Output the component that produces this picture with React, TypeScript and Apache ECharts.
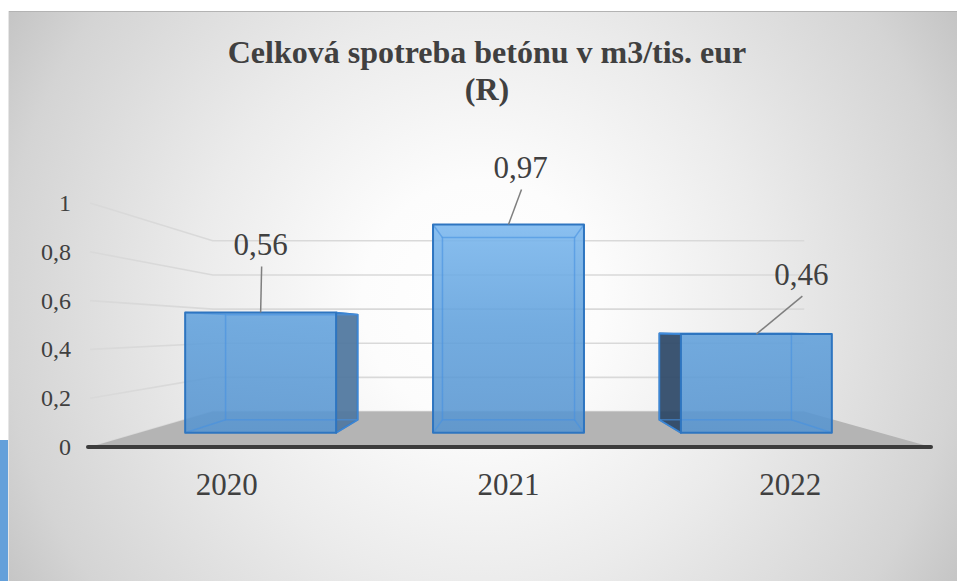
import React, { useEffect, useRef } from 'react';
import * as echarts from 'echarts';

// ---- data ----
const categories = ['2020', '2021', '2022'];
const values = [0.56, 0.97, 0.46];
const yTicks = [0, 0.2, 0.4, 0.6, 0.8, 1];
const titleLines = ['Celková spotreba betónu v m3/tis. eur', '(R)'];

// ---- style / layout constants ----
const FONT = "'Liberation Serif', 'Times New Roman', serif";
const TEXT = '#404040';
// label offsets (px) from the top-front-centre of each bar (manually placed labels)
const labelOffsets = [
  [0, -68],
  [12, -57],
  [45, -60],
];
const S_WALL = 0.7; // perspective scale of back wall
const S_FRONT = 0.88; // perspective scale of bar front faces
const S_BACK = 0.77; // perspective scale of bar back faces
const VP_FRAC = 0.516; // eye level as fraction of grid height
const BAR_FRAC = 0.609; // bar width as fraction of category width

const fmt = (v: number) => String(v).replace('.', ',');

function makePersp(cs: any) {
  const vx = cs.x + cs.width / 2;
  const vy = cs.y + cs.height * VP_FRAC;
  return {
    vx,
    vy,
    P: (x: number, y: number, s: number) => [vx + (x - vx) * s, vy + (y - vy) * s],
  };
}

export default function App() {
  const ref = useRef<HTMLDivElement>(null);

  useEffect(() => {
    if (!ref.current) return;
    const chart = echarts.init(ref.current, undefined, { renderer: 'svg' });

    const W = 949;
    const H = 570;

    const option: any = {
      animation: false,
      graphic: {
        elements: [
          {
            type: 'rect',
            z: -100,
            silent: true,
            shape: { x: 0, y: 0, width: W, height: H },
            style: {
              fill: new echarts.graphic.RadialGradient(
                474,
                289,
                600,
                [
                  { offset: 0, color: '#ffffff' },
                  { offset: 0.2, color: '#fcfcfc' },
                  { offset: 0.48, color: '#ebebeb' },
                  { offset: 0.8, color: '#d4d4d4' },
                  { offset: 0.93, color: '#c4c4c4' },
                  { offset: 1, color: '#bdbdbd' },
                ],
                true
              ),
            },
          },
          {
            type: 'line',
            z: -99,
            silent: true,
            shape: { x1: 0, y1: 0.5, x2: W, y2: 0.5 },
            style: { stroke: '#b3b3b3', lineWidth: 1 },
          },
          {
            type: 'line',
            z: -99,
            silent: true,
            shape: { x1: 0.5, y1: 0, x2: 0.5, y2: H },
            style: { stroke: '#e6e6e6', lineWidth: 1 },
          },
        ],
      },
      title: {
        text: titleLines.join('\n'),
        left: 479,
        top: 22,
        padding: 0,
        textAlign: 'center',
        textStyle: {
          fontFamily: FONT,
          fontSize: 32,
          fontWeight: 'bold',
          color: TEXT,
          lineHeight: 37,
        },
      },
      grid: { left: 78, right: 26, top: 192, bottom: 134 },
      xAxis: {
        type: 'category',
        data: categories,
        axisLine: { show: false },
        axisTick: { show: false },
        splitLine: { show: false },
        axisLabel: { fontFamily: FONT, fontSize: 31, color: TEXT, margin: 22 },
      },
      yAxis: {
        type: 'value',
        min: 0,
        max: 1,
        interval: 0.2,
        axisLine: { show: false },
        axisTick: { show: false },
        splitLine: { show: false },
        axisLabel: {
          fontFamily: FONT,
          fontSize: 24,
          color: TEXT,
          margin: 15,
          formatter: (v: number) => fmt(v),
        },
      },
      series: [
        // side + back wall gridlines
        {
          type: 'custom',
          z: 1,
          silent: true,
          data: yTicks.map((t) => [0, t]),
          encode: { x: 0, y: 1 },
          renderItem: (params: any, api: any) => {
            const cs = params.coordSys;
            const { P } = makePersp(cs);
            const y = api.coord([0, api.value(1)])[1];
            const xl = cs.x;
            const xr = cs.x + cs.width;
            return {
              type: 'polyline',
              shape: { points: [[xl + 4, y], P(xl, y, S_WALL), P(xr, y, S_WALL)] },
              style: { stroke: '#d9d9d9', lineWidth: 1.6, fill: null },
            };
          },
        },
        // floor + axis line
        {
          type: 'custom',
          z: 2,
          silent: true,
          data: [[0, 0]],
          encode: { x: 0, y: 1 },
          renderItem: (params: any, api: any) => {
            const cs = params.coordSys;
            const { P } = makePersp(cs);
            const y0 = api.coord([0, 0])[1];
            const xl = cs.x;
            const xr = cs.x + cs.width;
            return {
              type: 'group',
              children: [
                {
                  type: 'polygon',
                  shape: { points: [[xl + 4, y0], P(xl, y0, S_WALL), P(xr, y0, S_WALL), [xr, y0]] },
                  style: { fill: '#b4b4b4' },
                },
                {
                  type: 'line',
                  shape: { x1: xl + 2, y1: y0, x2: xr, y2: y0 },
                  style: { stroke: '#3c3c3c', lineWidth: 4, lineCap: 'round' },
                },
              ],
            };
          },
        },
        // 3D bars with labels
        {
          type: 'custom',
          z: 3,
          silent: true,
          data: values.map((v, i) => [i, v]),
          encode: { x: 0, y: 1 },
          renderItem: (params: any, api: any) => {
            const cs = params.coordSys;
            const { vx, vy, P } = makePersp(cs);
            const i = api.value(0);
            const v = api.value(1);
            const [cx, yt] = api.coord([i, v]);
            const yb = api.coord([i, 0])[1];
            const yTop1 = api.coord([i, 1])[1];
            const hw = (api.size([1, 0])[0] * BAR_FRAC) / 2;
            const x0 = cx - hw;
            const x1 = cx + hw;

            const FTL = P(x0, yt, S_FRONT);
            const FTR = P(x1, yt, S_FRONT);
            const FBR = P(x1, yb, S_FRONT);
            const FBL = P(x0, yb, S_FRONT);
            const BTL = P(x0, yt, S_BACK);
            const BTR = P(x1, yt, S_BACK);
            const BBR = P(x1, yb, S_BACK);
            const BBL = P(x0, yb, S_BACK);

            const edge = '#2e75c0';
            const inner = 'rgba(70,145,225,0.6)';
            const children: any[] = [];

            // outer side faces
            if (x0 > vx) {
              children.push({
                type: 'polygon',
                shape: { points: [FTL, BTL, BBL, FBL] },
                style: { fill: 'rgba(40,68,100,0.9)', stroke: edge, lineWidth: 1.8, lineJoin: 'round' },
              });
            }
            if (x1 < vx) {
              children.push({
                type: 'polygon',
                shape: { points: [FTR, BTR, BBR, FBR] },
                style: { fill: 'rgba(82,121,160,0.95)', stroke: edge, lineWidth: 1.8, lineJoin: 'round' },
              });
            }
            if (yt > vy) {
              children.push({
                type: 'polygon',
                shape: { points: [FTL, FTR, BTR, BTL] },
                style: { fill: 'rgba(110,170,225,0.8)', stroke: edge, lineWidth: 1.5 },
              });
            }

            // front face fill
            children.push({
              type: 'polygon',
              shape: { points: [FTL, FTR, FBR, FBL] },
              style: {
                fill: new echarts.graphic.LinearGradient(
                  0,
                  yb,
                  0,
                  yTop1,
                  [
                    { offset: 0, color: 'rgba(86,147,206,0.88)' },
                    { offset: 0.5, color: 'rgba(97,161,220,0.88)' },
                    { offset: 0.82, color: 'rgba(115,177,233,0.88)' },
                    { offset: 1, color: 'rgba(130,190,245,0.88)' },
                  ],
                  true
                ),
              },
            });

            // inner (see-through) edges
            children.push({
              type: 'polygon',
              shape: { points: [BTL, BTR, BBR, BBL] },
              style: { fill: null, stroke: inner, lineWidth: 1.5 },
            });
            [
              [FTL, BTL],
              [FTR, BTR],
              [FBR, BBR],
              [FBL, BBL],
            ].forEach(([a, b]) => {
              children.push({
                type: 'line',
                shape: { x1: a[0], y1: a[1], x2: b[0], y2: b[1] },
                style: { stroke: inner, lineWidth: 1.5 },
              });
            });

            // front outline
            children.push({
              type: 'polygon',
              shape: { points: [FTL, FTR, FBR, FBL] },
              style: { fill: null, stroke: edge, lineWidth: 2, lineJoin: 'round' },
            });

            // data label with leader line
            const topC = P(cx, yt, S_FRONT);
            const off = labelOffsets[i] || [0, -60];
            const lx = topC[0] + off[0];
            const ly = topC[1] + off[1];
            children.push({
              type: 'line',
              shape: { x1: lx + 1, y1: ly + 22, x2: topC[0], y2: topC[1] },
              style: { stroke: '#7f7f7f', lineWidth: 1.5 },
            });
            children.push({
              type: 'text',
              x: lx,
              y: ly,
              style: {
                text: fmt(v),
                fill: TEXT,
                fontFamily: FONT,
                fontSize: 31,
                align: 'center',
                verticalAlign: 'middle',
              },
            });

            return { type: 'group', children };
          },
        },
      ],
    };

    chart.setOption(option);
    return () => chart.dispose();
  }, []);

  return (
    <div
      style={{
        position: 'fixed',
        left: 0,
        top: 0,
        width: 957,
        height: 581,
        background: '#ffffff',
        overflow: 'hidden',
      }}
    >
      <div style={{ position: 'absolute', left: 0, top: 440, width: 8, height: 141, background: '#64a0da' }} />
      <div ref={ref} style={{ position: 'absolute', left: 8, top: 11, width: 949, height: 570 }} />
    </div>
  );
}
